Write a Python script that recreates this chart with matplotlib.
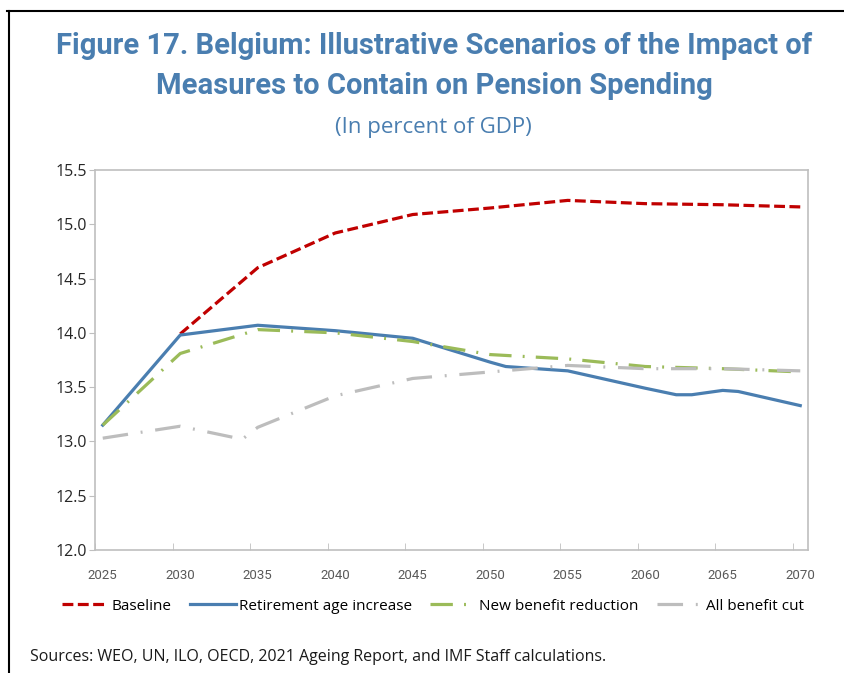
import matplotlib
matplotlib.use("Agg")
import matplotlib.pyplot as plt
from matplotlib.lines import Line2D

# ---- data ----
baseline_years = [2030, 2035, 2040, 2045, 2050, 2055, 2060, 2065, 2070]
baseline_vals = [13.99, 14.60, 14.92, 15.09, 15.15, 15.22, 15.19, 15.18, 15.16]

retire_years = [2025, 2030, 2035, 2040, 2045, 2050, 2051, 2055, 2060, 2062, 2063, 2065, 2066, 2070]
retire_vals = [13.15, 13.98, 14.07, 14.02, 13.95, 13.73, 13.69, 13.65, 13.49, 13.43, 13.43, 13.47, 13.46, 13.33]

newben_years = [2025, 2030, 2035, 2040, 2045, 2050, 2055, 2060, 2065, 2070]
newben_vals = [13.15, 13.81, 14.03, 14.00, 13.92, 13.80, 13.76, 13.69, 13.67, 13.64]

allcut_years = [2025, 2030, 2034, 2035, 2040, 2045, 2050, 2055, 2060, 2065, 2070]
allcut_vals = [13.03, 13.14, 13.02, 13.13, 13.42, 13.58, 13.64, 13.70, 13.67, 13.67, 13.65]

xtick_labels = ["2025", "2030", "2035", "2040", "2045", "2050", "2055", "2060", "2065", "2070"]
yticks = [12.0, 12.5, 13.0, 13.5, 14.0, 14.5, 15.0, 15.5]

title = "Figure 17. Belgium: Illustrative Scenarios of the Impact of\nMeasures to Contain on Pension Spending"
subtitle = "(In percent of GDP)"
source = "Sources: WEO, UN, ILO, OECD, 2021 Ageing Report, and IMF Staff calculations."

# ---- style ----
TITLE_BLUE = "#4A7EB0"
RED = "#C00000"
BLUE = "#4A7EB0"
GREEN = "#9BBB59"
GRAY = "#BDBDBD"
SPINE = "#BFBFBF"
narrow = ["Roboto", "DejaVu Sans"]
body = ["Open Sans", "DejaVu Sans"]

fig = plt.figure(figsize=(8.44, 6.73), dpi=100)
ax = fig.add_axes([95 / 844, 1 - 550 / 673, 713 / 844, 380 / 673])

lw = 2.3
red_dash = (3.4, 1.4)
green_dash = (7, 3.5, 0.6, 3.5)
gray_dash = (8, 4, 0.6, 4)
ax.plot(baseline_years, baseline_vals, color=RED, lw=lw, dashes=red_dash, label="Baseline")
ax.plot(retire_years, retire_vals, color=BLUE, lw=lw, label="Retirement age increase")
ax.plot(newben_years, newben_vals, color=GREEN, lw=lw, dashes=green_dash, label="New benefit reduction")
ax.plot(allcut_years, allcut_vals, color=GRAY, lw=lw, dashes=gray_dash, label="All benefit cut")

years_num = [int(s) for s in xtick_labels]
ax.set_xlim(years_num[0] - 0.5, years_num[-1] + 0.5)
ax.set_xticks(years_num)
ax.set_xticklabels(xtick_labels, family=narrow, fontsize=9.5, color="#595959")
ax.set_xticks([y - 0.5 for y in years_num], minor=True)
ax.tick_params(axis="x", which="major", length=0, pad=14)
ax.tick_params(axis="x", which="minor", length=5, direction="in", color=SPINE)

ax.set_ylim(12.0, 15.5)
ax.set_yticks(yticks)
ax.set_yticklabels([f"{v:.1f}" for v in yticks], family=body, fontsize=11.5, color="#262626")
ax.tick_params(axis="y", length=4, direction="out", color=SPINE, pad=1.5)

for s in ax.spines.values():
    s.set_color(SPINE)
    s.set_linewidth(1.2)

fig.text(434 / 844, 1 - 66 / 673, title, ha="center", va="center", family=narrow,
         fontweight="bold", fontsize=21, color=TITLE_BLUE, linespacing=1.55)
fig.text(433 / 844, 1 - 127 / 673, subtitle, ha="center", va="center", family=body,
         fontsize=16, color=TITLE_BLUE)

handles = [
    Line2D([], [], color=RED, lw=lw, dashes=red_dash),
    Line2D([], [], color=BLUE, lw=lw),
    Line2D([], [], color=GREEN, lw=lw, dashes=green_dash),
    Line2D([], [], color=GRAY, lw=lw, dashes=gray_dash),
]
labels = ["Baseline", "Retirement age increase", "New benefit reduction", "All benefit cut"]
fig.legend(handles, labels, loc="center", bbox_to_anchor=(433 / 844, 1 - 606 / 673), ncol=4,
           frameon=False, prop={"family": body, "size": 11}, handlelength=3.0,
           handletextpad=0.2, columnspacing=1.2)

fig.text(30 / 844, 1 - 657 / 673, source, ha="left", va="center", family=body, fontsize=11.5, color="#1a1a1a")

# outer frame lines (top and left)
fig.add_artist(Line2D([7 / 844, 1.0], [1 - 11 / 673, 1 - 11 / 673], color="black", lw=1.5, transform=fig.transFigure))
fig.add_artist(Line2D([9 / 844, 9 / 844], [1 - 11 / 673, 0], color="black", lw=1.5, transform=fig.transFigure))

fig.savefig("out.png", dpi=100)
